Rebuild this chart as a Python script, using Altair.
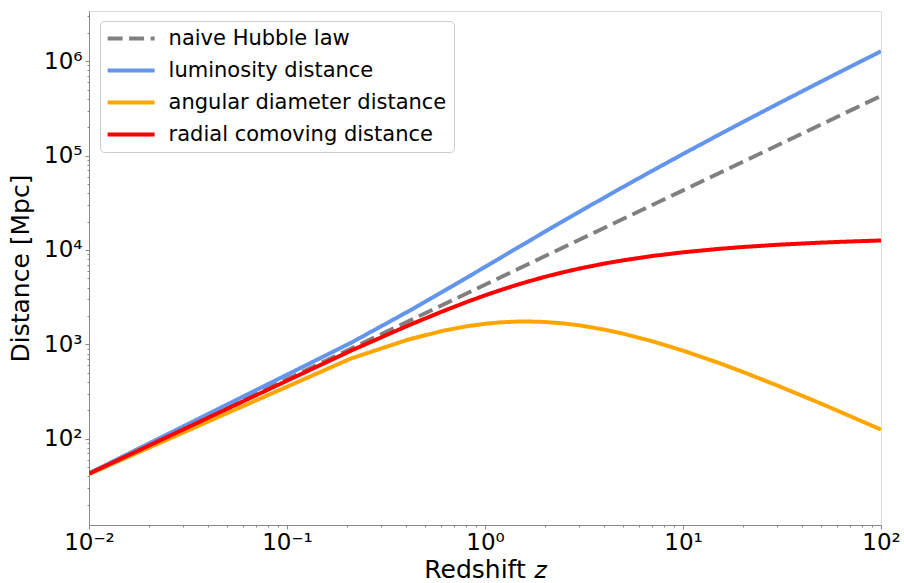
import altair as alt
import pandas as pd

# ---- data ----
series = ["naive Hubble law", "luminosity distance",
          "angular diameter distance", "radial comoving distance"]
colors = ["#808080", "#6495ED", "#FFA500", "#FF0000"]

z_naive = [0.01, 0.1, 1, 10, 100]
d_naive = [42.8, 428, 4283, 42830, 428300]

z_vals = [0.01, 0.21, 0.41, 0.61, 0.81, 1.01, 1.21, 1.41, 1.61, 2.01, 2.5, 3,
          4, 5, 7, 10, 15, 20, 30, 50, 70, 100]
d_lum = [43.0, 1036, 2236, 3602, 5095, 6689, 8365, 10108, 11904, 15637, 20398,
         25432, 35860, 46662, 69040, 103873, 163968, 225645, 351819, 610368,
         873442, 1272802]
d_ang = [42.2, 707, 1125, 1389, 1555, 1656, 1713, 1740, 1748, 1726, 1665, 1590,
         1434, 1296, 1079, 858, 641, 512, 366, 235, 173, 125]
d_com = [42.6, 856, 1586, 2237, 2815, 3328, 3785, 4194, 4561, 5195, 5828, 6358,
         7172, 7777, 8630, 9443, 10248, 10745, 11349, 11968, 12302, 12602]

x_major = [0.01, 0.1, 1, 10, 100]
x_major_labels = ["10⁻²", "10⁻¹", "10⁰", "10¹", "10²"]
y_major = [100, 1000, 10000, 100000, 1000000]
y_major_labels = ["10²", "10³", "10⁴", "10⁵", "10⁶"]

# ---- build table ----
rows = []
for zz, dd in zip(z_naive, d_naive):
    rows.append({"z": zz, "d": dd, "series": series[0]})
for name, ds in zip(series[1:], [d_lum, d_ang, d_com]):
    for zz, dd in zip(z_vals, ds):
        rows.append({"z": zz, "d": dd, "series": name})
df = pd.DataFrame(rows)

# tick positions (major + minor, log axes)
x_minor = [m * b for b in [0.01, 0.1, 1, 10] for m in range(2, 10)]
x_ticks = sorted(x_major + [round(v, 6) for v in x_minor])
y_minor = [m * b for b in [10, 100, 1000, 10000, 100000] for m in range(2, 10)] + [2000000, 3000000]
y_ticks = sorted(y_major + y_minor)


def lab_expr(major, labels):
    return (f"indexof({major}, datum.value) >= 0 ? "
            f"{labels}[indexof({major}, datum.value)] : ''")


def tick_size(major):
    return {"condition": {"test": f"indexof({major}, datum.value) >= 0", "value": 4},
            "value": 2}


FONT = "DejaVu Sans"

x_axis = alt.Axis(values=x_ticks, labelExpr=lab_expr(x_major, x_major_labels),
                  tickSize=tick_size(x_major), grid=False, labelFontSize=23,
                  labelFont=FONT, titleFont=FONT,
                  labelPadding=2, labelFlush=False, labelOverlap=False,
                  title="Redshift 𝑧", titleFontSize=25, titleFontWeight="normal",
                  titlePadding=3)
y_axis = alt.Axis(values=y_ticks, labelExpr=lab_expr(y_major, y_major_labels),
                  tickSize=tick_size(y_major), grid=False, labelFontSize=23,
                  labelFont=FONT, titleFont=FONT,
                  labelPadding=3, labelFlush=False, labelOverlap=False,
                  title="Distance [Mpc]", titleFontSize=25, titleFontWeight="normal",
                  titlePadding=10)

legend = alt.Legend(title=None, orient="none", legendX=11, legendY=10,
                    labelFontSize=21, labelFont=FONT,
                    symbolType="M-3,0L3,0", symbolSize=245.4, symbolStrokeWidth=4,
                    symbolOffset=13.6, labelOffset=27,
                    rowPadding=10, padding=7, fillColor="rgba(255,255,255,0.85)",
                    strokeColor="#cccccc", cornerRadius=4, labelLimit=400)

chart = alt.Chart(df).mark_line(strokeWidth=4, clip=True).encode(
    x=alt.X("z:Q", scale=alt.Scale(type="log", domain=[0.01, 100], nice=False), axis=x_axis),
    y=alt.Y("d:Q", scale=alt.Scale(type="log", domain=[12.2, 3.4e6], nice=False), axis=y_axis),
    color=alt.Color("series:N", scale=alt.Scale(domain=series, range=colors),
                    sort=series, legend=legend),
    strokeDash=alt.StrokeDash("series:N", scale=alt.Scale(
        domain=series, range=[[15, 6.5], [1, 0], [1, 0], [1, 0]]),
        sort=series, legend=legend),
).properties(
    width=792, height=514,
    padding={"left": 89, "top": 11, "right": 23, "bottom": 58},
    autosize=alt.AutoSizeParams(type="none"),
).configure_view(
    stroke="black", strokeWidth=1
).configure_axis(
    domainColor="black", tickColor="black", labelColor="black", titleColor="black",
    labelFont=FONT, titleFont=FONT, domainWidth=1, tickWidth=1
).configure(background="white", font=FONT)

chart.save("out.html", embed_options={"renderer": "svg", "actions": False})
